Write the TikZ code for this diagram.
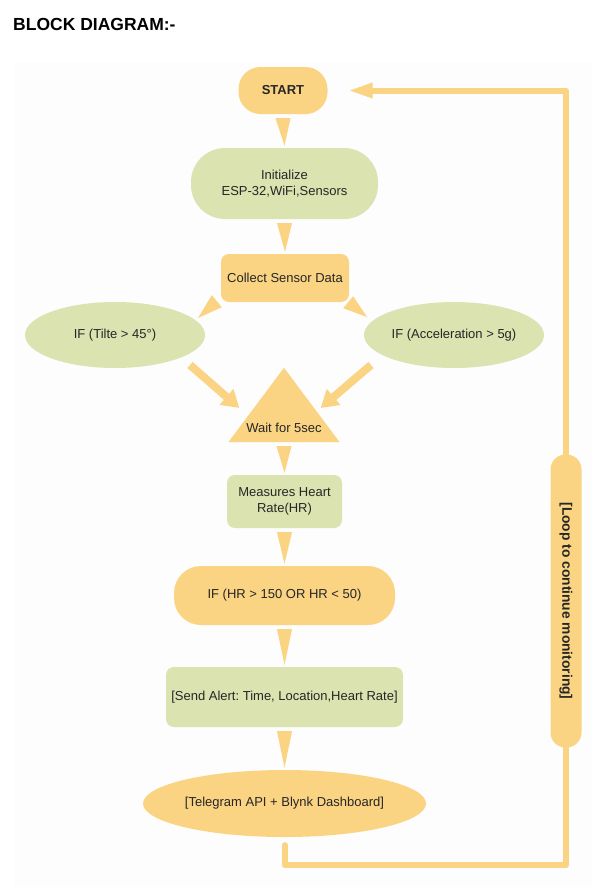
\documentclass[tikz,border=0pt]{standalone}
\usepackage{fontspec}
\setmainfont{Liberation Sans}
\usepackage{tikz}
\usetikzlibrary{calc, shapes.geometric, arrows.meta}

\definecolor{flowgold}{HTML}{FAD483}
\definecolor{flowgreen}{HTML}{DBE3B0}
\definecolor{flowtext}{HTML}{262626}
\definecolor{panel}{HTML}{FDFDFD}

\frenchspacing

\begin{document}
\begin{tikzpicture}[x = 1pt, y = -1pt,
		every node/.style = {text = flowtext, font = \fontsize{13}{15.5}\selectfont, inner sep = 0pt, align = center},
		goldbox/.style = {fill = flowgold},
		greenbox/.style = {fill = flowgreen},
		roundbox/.style = {rectangle, rounded corners = #1},
		thickarrow/.style = {flowgold, line width = 8pt, -{Triangle[length = 17pt, width = 20pt]}},
		loopline/.style = {flowgold, line width = 6pt, line join = round, line cap = round}]
	\def\wHALF{7.5};

	\useasboundingbox (0,0) rectangle (607,892);
	\fill[panel] (15,62) rectangle (592,887);

	\node[anchor = base west, text = black, font = \fontsize{17.5}{20}\selectfont\bfseries] (title) at (13,30) {BLOCK DIAGRAM:-};

	\begin{scope}
		\node[goldbox, roundbox = 22pt, minimum width = 89pt, minimum height = 47pt, font = \fontsize{13}{15.5}\selectfont\bfseries] (start) at (283,90.5) {START};
		\node[greenbox, roundbox = 34pt, minimum width = 187pt, minimum height = 71pt] (init) at (284.5,183.5) {Initialize\\ESP-32,WiFi,Sensors};
		\node[goldbox, roundbox = 8pt, minimum width = 128pt, minimum height = 48pt] (collect) at (285,278) {Collect Sensor Data};
		\node[greenbox, ellipse, minimum width = 180pt, minimum height = 66pt] (tilt) at (115,335) {IF (Tilte > 45°)};
		\node[greenbox, ellipse, minimum width = 180pt, minimum height = 66pt] (accel) at (454,335) {IF (Acceleration > 5g)};
		\node[minimum width = 111pt, minimum height = 74pt] (wait) at (284,405) {};
		\fill[flowgold] (wait.north) -- (wait.south east) -- (wait.south west) -- cycle;
		\node (waittext) at ($(wait.south)+(0,-14)$) {Wait for 5sec};
		\node[greenbox, roundbox = 8pt, minimum width = 115pt, minimum height = 53pt] (heart) at (284.5,501.5) {Measures Heart\\Rate(HR)};
		\node[goldbox, roundbox = 27pt, minimum width = 221pt, minimum height = 59pt] (hr) at (284.5,595.5) {IF (HR > 150 OR HR < 50)};
		\node[greenbox, roundbox = 8pt, minimum width = 237pt, minimum height = 60pt] (alert) at (284.5,697) {[Send Alert: Time, Location,Heart Rate]};
		\node[goldbox, ellipse, minimum width = 283pt, minimum height = 67pt] (telegram) at (284.5,803.5) {[Telegram API + Blynk Dashboard]};
		\node[goldbox, roundbox = 15pt, rotate = -90, minimum width = 293pt, minimum height = 31pt, font = \fontsize{13.8}{16}\selectfont\bfseries] (loopbox) at (566,601) {[Loop to continue monitoring]};
	\end{scope}

	\begin{scope}
		\foreach \a/\b in {start/init, init/collect, wait/heart, heart/hr, hr/alert, alert/telegram}
		{
			\fill[flowgold] ($(\a.south)+(-\wHALF,4)$) -- ($(\a.south)+(\wHALF,4)$) -- ($(\b.north)+(0,-2)$) -- cycle;
		}

		\fill[flowgold] ($(collect.south west)+(-9,-7)$) -- ($(collect.south west)+(1,5)$) -- ($(tilt.center)+(83,-17)$) -- cycle;
		\fill[flowgold] ($(collect.south east)+(4,-6)$) -- ($(collect.south east)+(-6,6)$) -- ($(accel.center)+(-87,-18)$) -- cycle;

		\draw[thickarrow] ($(tilt.center)+(75,30)$) -- ($(wait.west)+(11,3)$);
		\draw[thickarrow] ($(accel.center)+(-83,30)$) -- ($(wait.east)+(-19,3)$);
	\end{scope}

	\begin{scope}
		\coordinate (loopcorner) at (566,865);
		\draw[loopline] ($(telegram.south)+(0,8)$) |- (loopcorner) -- (loopbox.east);
		\draw[loopline, -{Triangle[length = 25pt, width = 14pt]}] (loopbox.west) |- ($(start.east)+(20,0)$);
	\end{scope}
\end{tikzpicture}
\end{document}
